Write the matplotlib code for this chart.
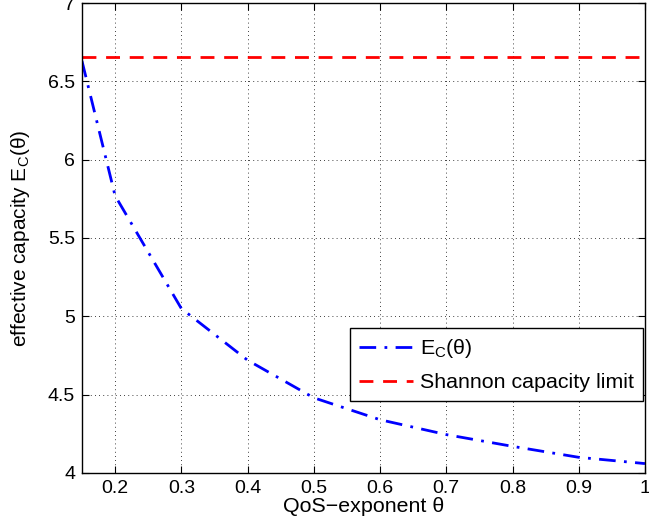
import matplotlib
matplotlib.use('Agg')
from matplotlib import pyplot as plt

plt.rcParams['font.family'] = ['Liberation Sans', 'DejaVu Sans']
plt.rcParams['mathtext.fontset'] = 'custom'
plt.rcParams['mathtext.rm'] = 'Liberation Sans'
plt.rcParams['mathtext.it'] = 'Liberation Sans:italic'

# QoS exponent vs effective capacity
theta = [0.15, 0.2, 0.3, 0.4, 0.5, 0.6, 0.7, 0.8, 0.9, 1.0]
ec = [6.63, 5.77, 5.05, 4.72, 4.48, 4.34, 4.245, 4.17, 4.10, 4.06]
shannon = 6.657

xticks = [0.2, 0.3, 0.4, 0.5, 0.6, 0.7, 0.8, 0.9, 1.0]
xticklabels = ['0.2', '0.3', '0.4', '0.5', '0.6', '0.7', '0.8', '0.9', '1']
yticks = [4, 4.5, 5, 5.5, 6, 6.5, 7]
yticklabels = ['4', '4.5', '5', '5.5', '6', '6.5', '7']

fig = plt.figure(figsize=(6.49, 5.29), dpi=100)
ax = fig.add_axes([0.1263, 0.1059, 0.8675, 0.8884])

ax.plot(theta, ec, color='blue', lw=2, linestyle=(0, (6, 3, 1, 3)),
        label=r'E$_{\rm C}$(θ)')
ax.plot([0.15, 1.0], [shannon, shannon], color='red', lw=2, linestyle=(0, (5, 3.5)),
        label='Shannon capacity limit')

ax.set_xlim(0.15, 1)
ax.set_ylim(4, 7)
ax.set_xticks(xticks)
ax.set_xticklabels(xticklabels)
ax.set_yticks(yticks)
ax.set_yticklabels(yticklabels)
ax.tick_params(direction='in', top=True, right=True, labelsize=14, length=5, pad=5)
ax.grid(True, color='black', linestyle=(0, (1, 4)), lw=0.6)
for s in ax.spines.values():
    s.set_linewidth(1.0)

ax.set_xlabel('QoS−exponent θ', fontsize=15.4, labelpad=0)
ax.set_ylabel(r'effective capacity E$_{\rm C}$(θ)', fontsize=15, labelpad=11)

leg = ax.legend(loc='lower right', bbox_to_anchor=(0.997, 0.153), fontsize=15.4,
                fancybox=False, edgecolor='black', framealpha=1,
                handlelength=2.5, handletextpad=0.35, borderpad=0.42,
                labelspacing=0.6, borderaxespad=0)
leg.get_frame().set_linewidth(1.0)

fig.savefig('out.png', dpi=100)
